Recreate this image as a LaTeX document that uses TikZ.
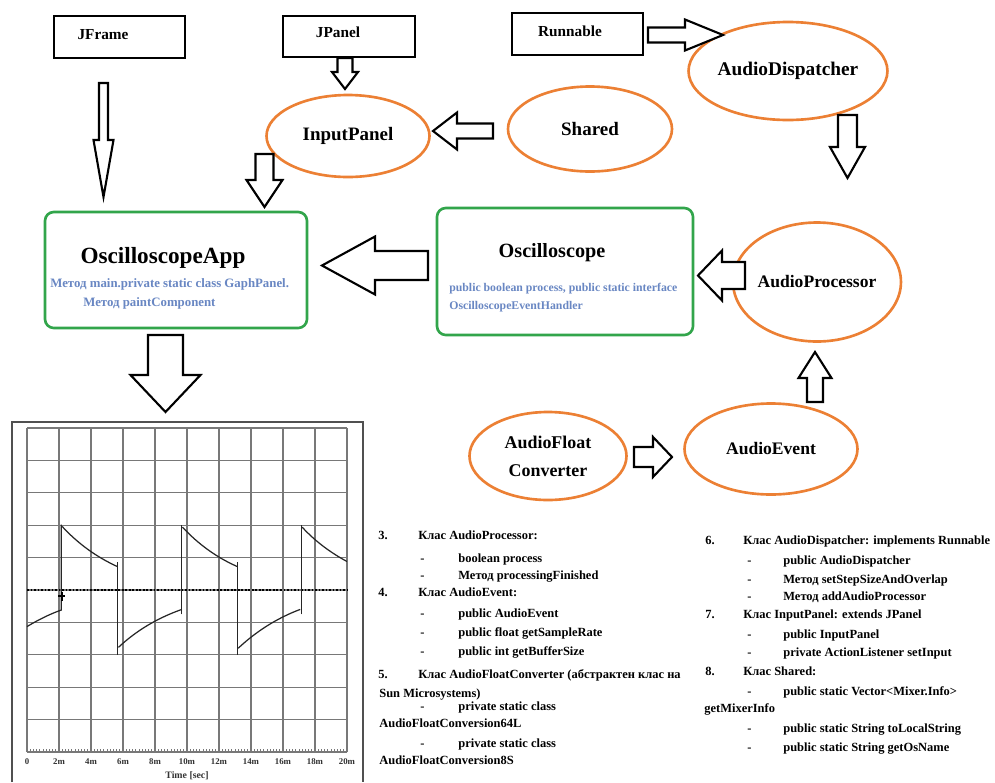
\documentclass[tikz,border=0pt]{standalone}
\usepackage{fontspec}
\setmainfont{Liberation Serif}
\usetikzlibrary{calc,shapes.geometric}
\definecolor{ogreen}{RGB}{50,165,75}
\definecolor{oorange}{RGB}{236,128,52}
\definecolor{oblue}{RGB}{105,135,195}
\definecolor{gridgray}{RGB}{120,120,120}
\definecolor{framegray}{RGB}{80,80,80}
\def\pxl{0.02cm}
% block arrow: tail, tip, shaft half width, head half width, head length (px)
\newcommand\blockarrow[5]{%
  \coordinate (ba-base) at ($(#2)!#5*\pxl!(#1)$);
  \draw[blockarr] ($(#1)!#3*\pxl!90:(#2)$) -- ($(ba-base)!#3*\pxl!90:(#2)$)
    -- ($(ba-base)!#4*\pxl!90:(#2)$) -- (#2) -- ($(ba-base)!#4*\pxl!-90:(#2)$)
    -- ($(ba-base)!#3*\pxl!-90:(#2)$) -- ($(#1)!#3*\pxl!-90:(#2)$) -- cycle;
}
\begin{document}
\begin{tikzpicture}[x=0.02cm,y=-0.02cm,
  blackbox/.style={draw=black, line width=1.4pt, inner sep=0},
  oell/.style={ellipse, draw=oorange, line width=1.5pt, inner sep=0, align=center},
  gbox/.style={draw=ogreen, line width=1.5pt, rounded corners=5pt, inner sep=0},
  boxlbl/.style={font=\fontsize{8.7pt}{10pt}\selectfont\bfseries, inner sep=0},
  title/.style={font=\fontsize{12pt}{14pt}\selectfont\bfseries, inner sep=0},
  bluetxt/.style={text=oblue, font=\fontsize{7pt}{8pt}\selectfont\bfseries, inner sep=0, anchor=base west, yshift=-0.08cm},
  lst/.style={font=\fontsize{7.1pt}{9pt}\selectfont\bfseries, inner sep=0, anchor=base west, yshift=-0.08cm},
  blockarr/.style={draw=black, line width=1.2pt, fill=white, line join=miter},
  gridline/.style={gridgray, line width=0.7pt},
  wave/.style={black!85, line width=0.7pt},
  ticklbl/.style={font=\fontsize{5pt}{6pt}\selectfont\bfseries, inner sep=0, text=black!80}
]
\useasboundingbox (0,0) rectangle (995,782);
\fill[white] (0,0) rectangle (995,782);

% ---- boxes
\node[blackbox, minimum width=131*\pxl, minimum height=42*\pxl] (jframe) at (119.5,37) {};
\node[boxlbl] (jframetxt) at (103,35) {JFrame};
\node[blackbox, minimum width=132*\pxl, minimum height=41*\pxl] (jpanel) at (349,36.5) {};
\node[boxlbl] (jpaneltxt) at (338,32) {JPanel};
\node[blackbox, minimum width=131*\pxl, minimum height=42*\pxl] (runnable) at (577.5,34) {};
\node[boxlbl] (runnabletxt) at (570,31) {Runnable};

% ---- ellipses
\node[oell, minimum width=163*\pxl, minimum height=82*\pxl, font=\fontsize{10.8pt}{12pt}\selectfont\bfseries] (inputpanel) at (348,136) {InputPanel};
\node[oell, minimum width=164*\pxl, minimum height=85*\pxl, font=\fontsize{10.8pt}{12pt}\selectfont\bfseries] (shared) at (590,129) {Shared};
\node[oell, minimum width=171*\pxl, minimum height=98*\pxl, font=\fontsize{11pt}{12pt}\selectfont\bfseries] (dispatcher) at (788,71) {AudioDispatcher};
\node[oell, minimum width=142*\pxl, minimum height=119*\pxl, font=\fontsize{10pt}{12pt}\selectfont\bfseries] (processor) at (817,282) {AudioProcessor};
\node[oell, minimum width=173*\pxl, minimum height=91*\pxl, font=\fontsize{10pt}{12pt}\selectfont\bfseries] (event) at (771,449) {AudioEvent};
\node[oell, minimum width=157*\pxl, minimum height=88*\pxl, font=\fontsize{10.2pt}{16pt}\selectfont\bfseries] (converter) at (548,456) {AudioFloat\\Converter};

% ---- green boxes
\node[gbox, minimum width=262*\pxl, minimum height=116*\pxl] (oscapp) at (176,270) {};
\node[title, font=\fontsize{13.2pt}{15pt}\selectfont\bfseries] (oscapptitle) at (163,258) {OscilloscopeApp};
\node[bluetxt, font=\fontsize{7.3pt}{8pt}\selectfont\bfseries] (oscappl1) at (50,283) {Метод main.private static class GaphPanel.};
\node[bluetxt, font=\fontsize{7.3pt}{8pt}\selectfont\bfseries] (oscappl2) at (83,302) {Метод paintComponent};

\node[gbox, minimum width=256*\pxl, minimum height=127*\pxl] (osc) at (565,271.5) {};
\node[title, font=\fontsize{11.5pt}{14pt}\selectfont\bfseries] (osctitle) at (552,253) {Oscilloscope};
\node[bluetxt, font=\fontsize{6.7pt}{8pt}\selectfont\bfseries] (oscl1) at (449,287) {public boolean process, public static interface};
\node[bluetxt, font=\fontsize{6.7pt}{8pt}\selectfont\bfseries] (oscl2) at (449,305) {OscilloscopeEventHandler};

% ---- block arrows
\coordinate (a1t) at (103.5,83);  \coordinate (a1h) at (103.5,197);
\coordinate (a2t) at (345,58);    \coordinate (a2h) at (345,89);
\coordinate (a3t) at (264.5,154); \coordinate (a3h) at (264.5,207);
\coordinate (a4t) at (493,131);   \coordinate (a4h) at (433,131);
\coordinate (a5t) at (648,35);    \coordinate (a5h) at (723,35);
\coordinate (a6t) at (847.5,115); \coordinate (a6h) at (847.5,178);
\coordinate (a7t) at (428,265.5); \coordinate (a7h) at (322,265.5);
\coordinate (a8t) at (745,275.5); \coordinate (a8h) at (698,275.5);
\coordinate (a9t) at (815,402);   \coordinate (a9h) at (815,352);
\coordinate (a10t) at (634,457);  \coordinate (a10h) at (672,457);
\coordinate (a11t) at (165.5,335); \coordinate (a11h) at (165.5,412);
\blockarrow{a1t}{a1h}{4.5}{10}{57}
\blockarrow{a2t}{a2h}{7.5}{13}{17}
\blockarrow{a3t}{a3h}{9}{18}{27}
\blockarrow{a4t}{a4h}{7.5}{18.5}{24}
\blockarrow{a5t}{a5h}{7.5}{15.5}{38}
\blockarrow{a6t}{a6h}{9.5}{17.5}{31}
\blockarrow{a7t}{a7h}{14.5}{29}{53}
\blockarrow{a8t}{a8h}{13.5}{25}{24}
\blockarrow{a9t}{a9h}{8}{16.5}{26}
\blockarrow{a10t}{a10h}{10}{20}{19}
\blockarrow{a11t}{a11h}{17.5}{35}{37}

% ---- oscilloscope graph
\draw[framegray, line width=1pt] (12,782) -- (12,422) -- (363,422) -- (363,782);
\foreach \i in {0,...,10} {
  \draw[gridline] (27+32*\i,428) -- (27+32*\i,752);
  \draw[gridline] (27,428+32.4*\i) -- (347,428+32.4*\i);
}
\draw[black, line width=1pt, densely dotted] (27,590) -- (347,590);
\foreach \i in {0,...,100} \draw[gridgray, line width=0.4pt] (27+3.2*\i,752) -- ++(0,-3);
\foreach \k/\l in {0/0,1/2m,2/4m,3/6m,4/8m,5/10m,6/12m,7/14m,8/16m,9/18m,10/20m}
  \node[ticklbl] (tick\k) at (27+32*\k,762) {\l};
\node[ticklbl, font=\fontsize{5.6pt}{6pt}\selectfont\bfseries] (timelbl) at (187,776) {Time [sec]};
\begin{scope}[shift={(27,428)}, x=0.64cm, y=-0.648cm]
  \draw[wave] (0,6.13) .. controls (0.384,5.903) and (0.741,5.733) .. (1.07,5.62) -- (1.07,2.98);
  \draw[wave] (1.1,3.04) .. controls (1.596,3.571) and (2.173,3.984) .. (2.83,4.28);
  \draw[wave] (2.84,4.15) -- (2.84,7.0);
  \draw[wave] (2.86,6.77) .. controls (3.413,6.257) and (4.073,5.867) .. (4.84,5.6);
  \draw[wave] (4.84,5.75) -- (4.84,2.98);
  \draw[wave] (4.86,3.06) .. controls (5.356,3.59) and (5.933,4.0) .. (6.58,4.28);
  \draw[wave] (6.59,4.15) -- (6.59,7.0);
  \draw[wave] (6.6,6.8) .. controls (7.153,6.287) and (7.813,5.867) .. (8.54,5.6);
  \draw[wave] (8.57,5.75) -- (8.57,2.98);
  \draw[wave] (8.6,3.06) .. controls (8.993,3.48) and (9.46,3.833) .. (10,4.12);
  \draw[black, line width=1.1pt] (1.08,5.05) -- (1.08,5.35) (0.98,5.2) -- (1.18,5.2);
\end{scope}

% ---- left list
\node[lst] (n3) at (378,535) {3.};
\node[lst] (h3) at (418,535) {Клас AudioProcessor:};
\node[lst] (n4) at (378,592) {4.};
\node[lst] (h4) at (418,592) {Клас AudioEvent:};
\node[lst] (n5) at (378,674) {5.};
\node[lst] (h5) at (418,674) {Клас AudioFloatConverter (абстрактен клас на};
\node[lst] (w5a) at (379,693) {Sun Microsystems)};
\node[lst] (w5b) at (379,723) {AudioFloatConversion64L};
\node[lst] (w5c) at (379,760) {AudioFloatConversion8S};
\foreach \y/\t [count=\i] in {558/{boolean process},575/{Метод processingFinished},613/{public AudioEvent},632/{public float getSampleRate},651/{public int getBufferSize},706/{private static class},743/{private static class}} {
  \node[lst] (ld\i) at (420,\y) {-};
  \node[lst] (li\i) at (458,\y) {\t};
}

% ---- right list
\node[lst] (n6) at (705,540) {6.};
\node[lst] (h6) at (743,540) {Клас AudioDispatcher: implements Runnable};
\node[lst] (n7) at (705,614) {7.};
\node[lst] (h7) at (743,614) {Клас InputPanel: extends JPanel};
\node[lst] (n8) at (705,671) {8.};
\node[lst] (h8) at (743,671) {Клас Shared:};
\node[lst] (w8) at (704,708) {getMixerInfo};
\foreach \y/\t [count=\i] in {560/{public AudioDispatcher},579/{Метод setStepSizeAndOverlap},596/{Метод addAudioProcessor},634/{public InputPanel},652/{private ActionListener setInput},691/{public static Vector<Mixer.Info>},728/{public static String toLocalString},747/{public static String getOsName}} {
  \node[lst] (rd\i) at (747,\y) {-};
  \node[lst] (ri\i) at (783,\y) {\t};
}
\end{tikzpicture}
\end{document}
